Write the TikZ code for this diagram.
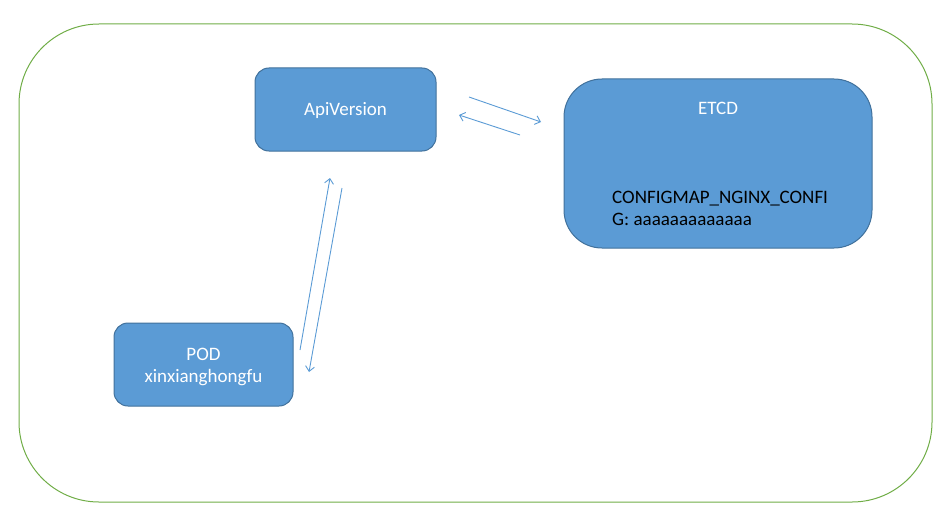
\documentclass[tikz,border=0pt]{standalone}
\usepackage{fontspec}
\setmainfont{Carlito}
\begin{document}
\begin{tikzpicture}[x=1pt,y=-1pt,
  box/.style={draw=boxedge,fill=boxfill,line width=1pt},
  lbl/.style={text=white,font=\fontsize{19}{22}\selectfont,align=center},
  conn/.style={draw=arrowcol,line width=0.9pt,-{Straight Barb[length=5pt,width=9pt]}}]
\usetikzlibrary{arrows.meta}
\definecolor{boxfill}{HTML}{5B9BD5}
\definecolor{boxedge}{HTML}{41719C}
\definecolor{arrowcol}{HTML}{5B9BD5}
\definecolor{outer}{HTML}{70AD47}
\useasboundingbox (0,0) rectangle (949,516);
\draw[outer,line width=1pt,rounded corners=80pt] (19,24) rectangle (932,502);
\draw[box,rounded corners=14pt] (255,68) rectangle (436,151);
\node[lbl] (api) at (345.5,110) {ApiVersion};
\draw[box,rounded corners=38pt] (564,79) rectangle (872,248);
\node[lbl] (etcd) at (718,108) {ETCD};
\node[font=\fontsize{19}{22}\selectfont,align=left,anchor=north west,inner sep=0pt] (cfg) at (612,191) {CONFIGMAP\_NGINX\_CONFI\\G: aaaaaaaaaaaaa};
\draw[box,rounded corners=14pt] (114,323) rectangle (293,406);
\node[lbl] (pod) at (203.5,367) {POD\\xinxianghongfu};
\coordinate (a1s) at (469,97);
\coordinate (a1e) at (541,122);
\coordinate (a2s) at (520,135);
\coordinate (a2e) at (459,115);
\coordinate (a3s) at (300,350);
\coordinate (a3e) at (330,178);
\coordinate (a4s) at (342,188);
\coordinate (a4e) at (309,372);
\draw[conn] (a1s) -- (a1e);
\draw[conn] (a2s) -- (a2e);
\draw[conn] (a3s) -- (a3e);
\draw[conn] (a4s) -- (a4e);
\end{tikzpicture}
\end{document}
